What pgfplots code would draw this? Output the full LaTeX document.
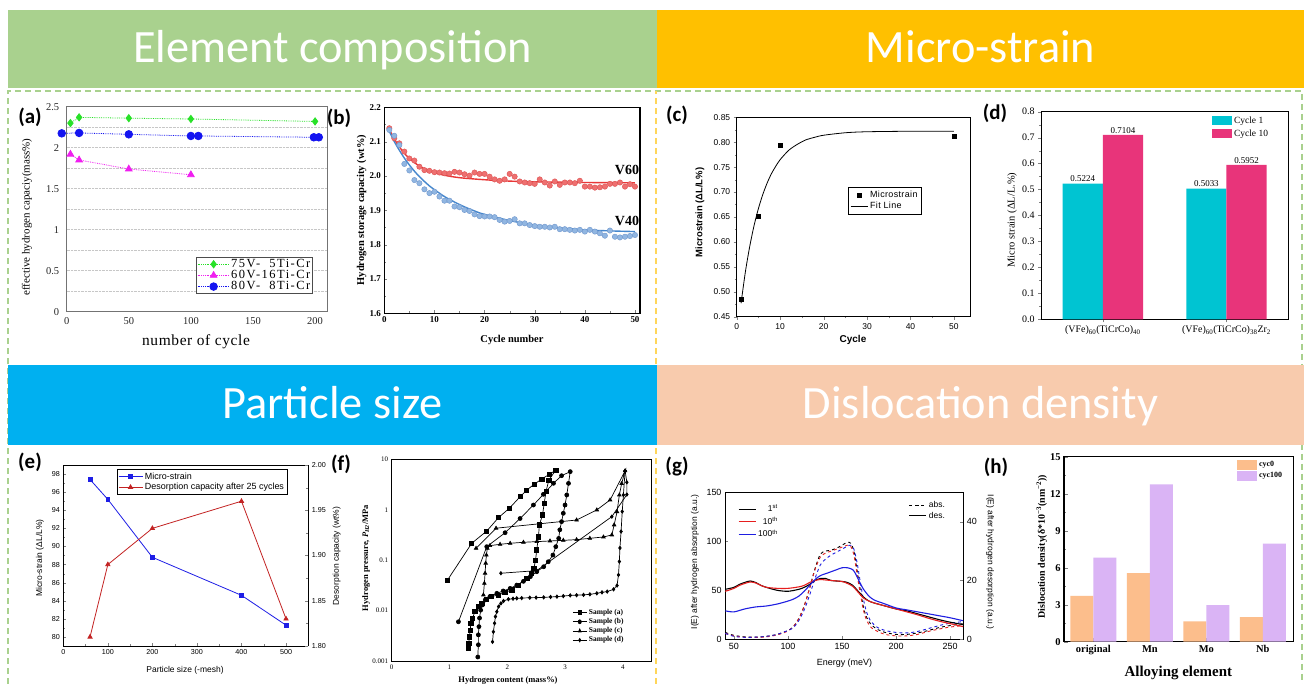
\documentclass[border=0pt]{standalone}
\usepackage{fontspec}
\usepackage{pgfplots}
\pgfplotsset{compat=1.18}
\setmainfont{Liberation Serif}
\newfontfamily\arial{Liberation Sans}
\newfontfamily\carlito{Carlito}
\newcommand{\fs}[1]{\fontsize{#1}{#1}\selectfont}
\definecolor{bgreen}{RGB}{169,209,142}
\definecolor{borange}{RGB}{255,192,0}
\definecolor{bblue}{RGB}{0,176,240}
\definecolor{bpeach}{RGB}{248,203,173}
\definecolor{dyellow}{RGB}{255,214,90}
\definecolor{cgreen}{RGB}{40,225,40}
\definecolor{cmag}{RGB}{240,30,240}
\definecolor{cblue}{RGB}{20,20,240}
\definecolor{rfill}{RGB}{238,112,112}
\definecolor{rdraw}{RGB}{222,80,80}
\definecolor{bfill}{RGB}{145,182,225}
\definecolor{bdraw}{RGB}{110,150,205}
\definecolor{rfit}{RGB}{232,55,55}
\definecolor{bfit}{RGB}{70,135,205}
\definecolor{ccyan}{RGB}{0,196,210}
\definecolor{cpink}{RGB}{232,52,122}
\definecolor{estr}{RGB}{30,30,230}
\definecolor{edes}{RGB}{195,35,35}
\definecolor{gred}{RGB}{230,30,30}
\definecolor{gblue}{RGB}{30,30,225}
\definecolor{hpeach}{RGB}{252,190,140}
\definecolor{hlav}{RGB}{218,180,245}
\pgfplotsset{every axis/.append style={scale only axis, anchor=south west, /pgf/number format/assume math mode=true}}
\begin{document}
\begin{tikzpicture}
\useasboundingbox (0,0) rectangle (1304bp,684bp);
\fill[white] (0,0) rectangle (1304bp,684bp);
% dashed frames
\draw[bgreen, line width=2bp, dash pattern=on 6bp off 4bp] (8bp,0bp) -- (8bp,593bp) -- (1302bp,593bp) -- (1302bp,0bp);
\draw[dyellow, line width=2bp, dash pattern=on 6bp off 4bp] (656bp,0bp) -- (656bp,593bp);
% banners
\fill[bgreen] (8bp,596bp) rectangle (657bp,674bp);
\fill[borange] (657bp,596bp) rectangle (1304bp,674bp);
\fill[bblue] (8bp,239bp) rectangle (657bp,319bp);
\fill[bpeach] (657bp,239bp) rectangle (1304bp,319bp);
\node[white, font=\carlito\fs{46.5}, anchor=base] at (332.5bp,621bp) {Element composition};
\node[white, font=\carlito\fs{46.5}, anchor=base] at (980.5bp,621bp) {Micro-strain};
\node[white, font=\carlito\fs{46.5}, anchor=base] at (332.5bp,265.5bp) {Particle size};
\node[white, font=\carlito\fs{46.5}, anchor=base] at (980.5bp,265.5bp) {Dislocation density};
% panel letters
\node[font=\carlito\bfseries\fs{21}] at (30bp,567bp) {(a)};
\node[font=\carlito\bfseries\fs{21}] at (339bp,566bp) {(b)};
\node[font=\carlito\bfseries\fs{21}] at (677bp,569bp) {(c)};
\node[font=\carlito\bfseries\fs{21}] at (995bp,571bp) {(d)};
\node[font=\carlito\bfseries\fs{21}] at (30bp,222bp) {(e)};
\node[font=\carlito\bfseries\fs{21}] at (341bp,220bp) {(f)};
\node[font=\carlito\bfseries\fs{21}] at (677bp,217bp) {(g)};
\node[font=\carlito\bfseries\fs{21}] at (996bp,217bp) {(h)};

% ---------------- (a)
\begin{axis}[at={(66.7bp,372.3bp)}, width=260.8bp, height=205bp,
 xmin=0,xmax=210,ymin=0,ymax=2.5,
 xtick={0,50,100,150,200}, ytick={0,0.5,1,1.5,2,2.5},
 minor ytick={0.25,0.75,1.25,1.75,2.25},
 ymajorgrids, yminorgrids,
 major grid style={densely dotted, black!22}, minor grid style={densely dotted, black!22},
 major tick length=0pt, minor tick length=0pt,
 axis line style={black!55, line width=0.9bp},
 tick label style={font=\fs{10.5}, text=black!85},
 yticklabel style={xshift=-4bp}, xticklabel style={yshift=-2bp},
 clip=false,
 legend style={at={(0.944,0.086)}, anchor=south east, draw=black!70, line width=0.8bp, font=\fs{12.5}\addfontfeature{LetterSpace=12}, inner sep=1bp, row sep=-1bp, nodes={inner sep=1.2bp}},
 legend cell align=left,
 legend image code/.code={\draw[#1, mark repeat=2, mark phase=2] plot coordinates {(0bp,0bp) (16bp,0bp) (32bp,0bp)};},
]
\addplot[color=cgreen, densely dotted, line width=0.8bp, mark=diamond*, mark size=3.6bp, mark options={solid, fill=cgreen}] coordinates {(3,2.30)(10,2.37)(50,2.36)(100,2.35)(200,2.32)};
\addlegendentry{75V-\ \ 5Ti-Cr}
\addplot[color=cmag, densely dotted, line width=0.8bp, mark=triangle*, mark size=3.8bp, mark options={solid, fill=cmag}] coordinates {(3,1.92)(10,1.85)(50,1.74)(100,1.67)};
\addlegendentry{60V-16Ti-Cr}
\addplot[color=cblue, densely dotted, line width=0.8bp, mark=*, mark size=3.8bp, mark options={solid, fill=cblue}] coordinates {(-4,2.175)(10,2.18)(50,2.163)(100,2.143)(106,2.143)(199,2.127)(203,2.127)};
\addlegendentry{80V-\ \ 8Ti-Cr}
\end{axis}
\node[font=\fs{15.5}\addfontfeature{LetterSpace=4}] at (196bp,342bp) {number of cycle};
\node[font=\fs{11}, rotate=90] at (27bp,467bp) {effective hydrogen capaciy(mass\%)};

% ---------------- (b)
\begin{axis}[at={(384.3bp,370.7bp)}, width=255.7bp, height=206bp,
 xmin=0,xmax=51,ymin=1.6,ymax=2.2,
 xtick={0,10,20,30,40,50}, ytick={1.6,1.7,1.8,1.9,2.0,2.1,2.2},
 minor x tick num=1, minor y tick num=1,
 xtick pos=left, ytick pos=left, tick align=inside,
 major tick length=3bp, minor tick length=1.8bp,
 axis line style={line width=1.1bp},
 tick label style={font=\bfseries\fs{9}},
 yticklabel style={/pgf/number format/.cd, fixed, fixed zerofill, precision=1},
]
\addplot[only marks, mark=*, mark size=2.7bp, mark options={fill=rfill, draw=rdraw, line width=0.4bp}] coordinates {
(1,2.139)(2,2.110)(3,2.095)(4,2.071)(5,2.051)(6,2.045)(7,2.027)(8,2.017)(9,2.015)(10,2.011)
(11,2.010)(12,2.008)(13,2.007)(14,2.012)(15,2.010)(16,2.005)(17,2.001)(18,2.010)(19,2.006)(20,2.006)
(21,1.998)(22,1.990)(23,1.986)(24,1.990)(25,2.006)(26,1.998)(27,1.984)(28,1.981)(29,1.979)(30,1.977)
(31,1.990)(32,1.981)(33,1.972)(34,1.984)(35,1.974)(36,1.981)(37,1.981)(38,1.979)(39,1.986)(40,1.969)
(41,1.969)(42,1.966)(43,1.967)(44,1.969)(45,1.977)(46,1.977)(47,1.981)(48,1.969)(49,1.976)(50,1.969)};
\addplot[only marks, mark=*, mark size=2.7bp, mark options={fill=bfill, draw=bdraw, line width=0.4bp}] coordinates {
(1,2.134)(2,2.117)(3,2.090)(4,2.035)(5,2.016)(6,1.988)(7,1.979)(8,1.961)(9,1.950)(10,1.954)
(11,1.940)(12,1.928)(13,1.928)(14,1.911)(15,1.909)(16,1.901)(17,1.898)(18,1.888)(19,1.883)(20,1.882)
(21,1.882)(22,1.880)(23,1.872)(24,1.867)(25,1.869)(26,1.874)(27,1.862)(28,1.862)(29,1.857)(30,1.854)
(31,1.852)(32,1.852)(33,1.850)(34,1.852)(35,1.845)(36,1.845)(37,1.843)(38,1.841)(39,1.843)(40,1.838)
(41,1.843)(42,1.838)(43,1.833)(44,1.826)(45,1.841)(46,1.823)(47,1.821)(48,1.823)(49,1.825)(50,1.828)};
\addplot[rfit, line width=1.4bp, smooth] coordinates {(1,2.135)(2,2.108)(3,2.085)(4,2.066)(5,2.051)(6,2.039)(7,2.029)(8,2.021)(10,2.010)(12,2.002)(15,1.995)(20,1.989)(25,1.985)(30,1.983)(40,1.981)(50,1.980)};
\addplot[bfit, line width=1.4bp, smooth] coordinates {(1,2.13)(2,2.10)(3,2.075)(4,2.052)(5,2.032)(6,2.014)(7,1.998)(8,1.984)(9,1.971)(10,1.960)(12,1.940)(14,1.924)(16,1.910)(18,1.898)(20,1.888)(25,1.870)(30,1.857)(35,1.849)(40,1.843)(45,1.840)(50,1.838)};
\end{axis}
\node[font=\bfseries\fs{14}] at (627bp,514bp) {V60};
\node[font=\bfseries\fs{14}] at (627bp,463bp) {V40};
\node[font=\bfseries\fs{10.5}, rotate=90] at (361.7bp,474bp) {Hydrogen storage capacity (wt\%)};
\node[font=\bfseries\fs{10.5}] at (512bp,344bp) {Cycle number};

% ---------------- (c)
\begin{axis}[at={(736.7bp,367.3bp)}, width=233.3bp, height=199.4bp,
 xmin=0,xmax=53.7,ymin=0.45,ymax=0.85,
 xtick={0,10,20,30,40,50}, ytick={0.45,0.50,0.55,0.60,0.65,0.70,0.75,0.80,0.85},
 minor x tick num=1, minor y tick num=1,
 xtick pos=left, ytick pos=left, tick align=outside,
 major tick length=3bp, minor tick length=1.8bp,
 axis line style={line width=0.8bp},
 tick label style={font=\arial\fs{8.5}},
 yticklabel style={/pgf/number format/.cd, fixed, fixed zerofill, precision=2},
 legend style={at={(0.477,0.65)}, anchor=north west, draw=black, line width=0.6bp, font=\arial\fs{9}\addfontfeature{LetterSpace=4}, inner sep=2bp, row sep=-1bp},
 legend cell align=left,
]
\addplot[only marks, mark=square*, mark size=1.8bp, black] coordinates {(1,0.485)(5,0.651)(10,0.794)(50,0.812)};
\addlegendentry{Microstrain}
\addplot[black, line width=0.8bp, smooth] coordinates {(1,0.477)(2,0.540)(3,0.591)(4,0.633)(5,0.667)(6,0.695)(7,0.718)(8,0.737)(9,0.752)(10,0.765)(12,0.784)(14,0.796)(16,0.805)(18,0.810)(20,0.814)(25,0.819)(30,0.821)(40,0.822)(50,0.822)};
\addlegendentry{Fit Line}
\end{axis}
\node[font=\arial\bfseries\fs{9.5}, rotate=90] at (700bp,471.5bp) {Microstrain (ΔL/L\%)};
\node[font=\arial\bfseries\fs{10}] at (853bp,344bp) {Cycle};

% ---------------- (d)
\begin{axis}[at={(1041bp,364.7bp)}, width=247.3bp, height=207.6bp,
 xmin=0.5,xmax=2.5,ymin=0,ymax=0.8,
 xtick={1,2}, xticklabels={(VFe)\textsubscript{60}(TiCrCo)\textsubscript{40},(VFe)\textsubscript{60}(TiCrCo)\textsubscript{38}Zr\textsubscript{2}},
 ytick={0,0.1,...,0.8}, minor y tick num=1,
 xtick pos=left, ytick pos=left, tick align=outside,
 major tick length=3bp, minor tick length=1.8bp,
 axis line style={line width=0.9bp},
 tick label style={font=\fs{10}},
 yticklabel style={/pgf/number format/.cd, fixed, fixed zerofill, precision=1},
 legend style={at={(0.687,0.99)}, anchor=north west, draw=none, fill=none, font=\fs{9.5}, inner sep=1bp, row sep=0.5bp},
 legend cell align=left,
 legend image code/.code={\fill[#1] (0bp,-4.5bp) rectangle (20bp,4.5bp);},
 point meta=explicit symbolic,
 nodes near coords, every node near coord/.append style={font=\fs{9}, inner sep=1.5bp},
]
\addplot[ybar, bar width=0.325, bar shift=0pt, fill=ccyan, draw=none] coordinates {(0.8375,0.5224)[0.5224] (1.8375,0.5033)[0.5033]};
\addlegendentry{Cycle 1}
\addplot[ybar, bar width=0.325, bar shift=0pt, fill=cpink, draw=none] coordinates {(1.1625,0.7104)[0.7104] (2.1625,0.5952)[0.5952]};
\addlegendentry{Cycle 10}
\end{axis}
\node[font=\fs{10.5}, rotate=90] at (1012bp,464bp) {Micro strain (ΔL/L.\%)};

% ---------------- (e)
\begin{axis}[at={(63.3bp,38bp)}, width=245bp, height=181bp,
 xmin=0,xmax=550,ymin=79,ymax=99,
 xtick={0,100,200,300,400,500}, ytick={80,82,84,86,88,90,92,94,96,98},
 minor x tick num=1, minor y tick num=1,
 axis y line*=left, xtick pos=left, tick align=inside,
 major tick length=3bp, minor tick length=1.8bp,
 axis line style={line width=0.6bp},
 tick label style={font=\arial\fs{7.2}},
]
\addplot[estr, line width=0.8bp, mark=square*, mark size=1.9bp] coordinates {(60,97.4)(100,95.2)(200,88.8)(400,84.6)(500,81.3)};
\end{axis}
\begin{axis}[at={(63.3bp,38bp)}, width=245bp, height=181bp,
 xmin=0,xmax=550,ymin=1.8,ymax=2.0,
 axis x line=none, axis y line*=right,
 ytick={1.80,1.85,1.90,1.95,2.00}, minor y tick num=1,
 tick align=inside,
 major tick length=3bp, minor tick length=1.8bp,
 axis line style={line width=0.6bp},
 tick label style={font=\arial\fs{7.2}},
 yticklabel style={/pgf/number format/.cd, fixed, fixed zerofill, precision=2},
 legend style={at={(0.218,0.976)}, anchor=north west, draw=black, line width=0.5bp, font=\arial\fs{9}, inner sep=1.2bp, row sep=-1.5bp},
 legend cell align=left,
 legend image code/.code={\draw[#1, mark repeat=2, mark phase=2] plot coordinates {(0bp,0bp) (12bp,0bp) (24bp,0bp)};},
]
\addlegendimage{estr, line width=0.8bp, mark=square*, mark size=1.9bp}
\addlegendentry{Micro-strain}
\addplot[edes, line width=0.8bp, mark=triangle*, mark size=2.4bp] coordinates {(60,1.81)(100,1.89)(200,1.93)(400,1.96)(500,1.83)};
\addlegendentry{Desorption capacity after 25 cycles}
\end{axis}
\node[font=\arial\fs{8.5}, rotate=90] at (40bp,126bp) {Micro-strain (ΔL/L\%)};
\node[font=\arial\fs{8.5}, rotate=90] at (336.7bp,128bp) {Desorption capacity (wt\%)};
\node[font=\arial\fs{8.5}] at (185bp,14bp) {Particle size (-mesh)};

% ---------------- (f)
\begin{axis}[at={(391.7bp,23bp)}, width=260bp, height=201.7bp,
 xmin=0,xmax=4.5,ymin=0.001,ymax=10, ymode=log,
 xtick={0,1,2,3,4}, ytick={0.001,0.01,0.1,1,10}, yticklabels={0.001,0.01,0.1,1,10},
 major tick length=0pt, minor tick length=0pt,
 axis line style={line width=0.7bp},
 tick label style={font=\fs{7}},
 legend style={at={(0.904,0.071)}, anchor=south east, draw=none, fill=none, font=\bfseries\fs{7.5}, inner sep=1bp, row sep=-1.5bp},
 legend cell align=left,
 legend image post style={xscale=0.8},
]
\addplot[black, line width=0.7bp, mark=square*, mark size=2.1bp] coordinates {
(0.964,0.040)(1.385,0.216)(1.645,0.378)(1.85,0.70)(2.037,1.07)(2.222,1.81)(2.337,2.46)(2.464,3.18)(2.597,4.07)(2.73,5.04)(2.84,6.1)
(2.72,3.89)(2.67,2.28)(2.64,1.34)(2.61,0.79)(2.556,0.50)(2.54,0.29)(2.51,0.16)(2.49,0.10)(2.46,0.069)(2.42,0.055)(2.34,0.044)
(2.19,0.032)(2.08,0.0257)(1.96,0.023)(1.85,0.0204)(1.73,0.019)(1.645,0.017)(1.56,0.014)(1.5,0.012)(1.44,0.0095)(1.40,0.0071)
(1.37,0.0056)(1.36,0.0041)(1.345,0.0030)(1.334,0.0022)(1.33,0.0018)};
\addlegendentry{Sample (a)}
\addplot[black, line width=0.7bp, mark=*, mark size=2bp] coordinates {
(1.155,0.006)(1.645,0.185)(1.963,0.35)(2.222,0.67)(2.453,1.24)(2.626,2.02)(2.80,3.34)(2.94,4.73)(3.09,5.69)
(3.06,3.33)(3.03,1.96)(3.0,1.24)(2.97,0.85)(2.94,0.58)(2.91,0.40)(2.89,0.27)(2.84,0.185)(2.79,0.126)(2.71,0.093)(2.63,0.074)
(2.51,0.059)(2.40,0.047)(2.28,0.038)(2.165,0.032)(2.05,0.0275)(1.93,0.0245)(1.82,0.022)(1.70,0.019)(1.62,0.0163)(1.57,0.0129)
(1.54,0.0102)(1.52,0.0071)(1.51,0.0048)(1.50,0.0033)(1.50,0.0021)(1.49,0.0012)};
\addlegendentry{Sample (b)}
\addplot[black, line width=0.7bp, mark=triangle*, mark size=2bp] coordinates {
(1.587,0.0204)(1.604,0.0347)(1.616,0.055)(1.627,0.087)(1.639,0.126)(1.656,0.172)(1.70,0.194)(1.876,0.206)(2.05,0.216)(2.28,0.226)
(2.51,0.233)(2.74,0.24)(2.97,0.247)(3.20,0.255)(3.43,0.271)(3.665,0.288)(3.81,0.316)(3.85,0.50)(3.90,0.91)(3.94,1.96)(3.98,3.3)(4.04,5.9)
(3.78,1.56)(3.55,0.99)(3.20,0.625)(1.806,0.43)(1.46,0.172)};
\addlegendentry{Sample (c)}
\addplot[black, line width=0.7bp, mark=diamond*, mark size=1.7bp] coordinates {
(1.745,0.0024)(1.76,0.0038)(1.78,0.0056)(1.795,0.0076)(1.82,0.0095)(1.85,0.012)(1.89,0.0139)(1.935,0.0155)(2.02,0.0168)(2.1,0.0172)
(2.164,0.0175)(2.25,0.0177)(2.39,0.018)(2.5,0.0181)(2.63,0.0183)(2.75,0.0186)(2.86,0.0189)(2.97,0.0194)(3.09,0.020)(3.2,0.0202)
(3.32,0.0205)(3.43,0.021)(3.55,0.022)(3.64,0.023)(3.73,0.0238)(3.84,0.0264)(3.90,0.0314)(3.925,0.051)(3.94,0.094)(3.95,0.174)
(3.97,0.37)(3.99,0.92)(4.01,1.96)(4.04,5.9)};
\addlegendentry{Sample (d)}
\addplot[black, line width=0.7bp, mark=diamond*, mark size=1.7bp, forget plot] coordinates {(4.04,5.9)(4.07,3.5)(4.07,2.0)(3.81,0.73)(2.51,0.062)(1.89,0.055)};
\end{axis}
\node[font=\bfseries\fs{8.5}, rotate=90] at (366bp,126bp) {Hydrogen pressure, \textit{P}\textsubscript{\textit{H2}}/MPa};
\node[font=\bfseries\fs{8.5}] at (508bp,3.5bp) {Hydrogen content (mass\%)};

% ---------------- (g)
\begin{axis}[at={(725bp,44.7bp)}, width=238.3bp, height=147bp,
 xmin=41.7,xmax=262.3,ymin=0,ymax=150,
 xtick={50,100,150,200,250}, ytick={0,50,100,150},
 xtick pos=left, ytick pos=left, tick align=inside,
 major tick length=3bp,
 axis line style={line width=0.7bp},
 tick label style={font=\arial\fs{9}},
 legend style={at={(0.05,0.935)}, anchor=north west, draw=none, fill=none, font=\arial\fs{8.5}, inner sep=1bp, row sep=0bp},
 legend cell align=right,
]
\addlegendimage{black, line width=1.1bp}\addlegendentry{1\textsuperscript{st}}
\addlegendimage{gred, line width=1.1bp}\addlegendentry{10\textsuperscript{th}}
\addlegendimage{gblue, line width=1.1bp}\addlegendentry{100\textsuperscript{th}}
\addplot[black, dashed, line width=0.9bp, smooth, forget plot] coordinates {(42,7)(50,4)(60,2.5)(70,2.2)(80,3)(90,5)(100,9)(105,13)(110,21)(115,34)(120,52)(125,72)(130,87)(135,90)(140,91)(145,93)(150,96)(155,99)(158,98)(161,90)(164,70)(167,50)(170,32)(173,22)(177,15)(183,10)(190,7)(200,5)(210,5)(220,6.5)(230,9)(240,12)(250,14)(262,16)};
\addplot[gred, dashed, line width=0.9bp, smooth, forget plot] coordinates {(42,6)(50,3.5)(60,2)(70,2)(80,2.5)(90,4.5)(100,8.5)(105,13)(110,21)(115,34)(120,52)(125,71)(130,84)(135,88)(140,90)(145,92)(150,94)(155,96)(158,95)(161,86)(164,66)(167,46)(170,29)(173,19)(177,12)(183,8)(190,5)(200,3.5)(210,3.5)(220,5)(230,8)(240,10.5)(250,12.5)(262,14)};
\addplot[gblue, dashed, line width=0.9bp, smooth, forget plot] coordinates {(42,6)(50,3)(60,2)(70,2.2)(80,3)(90,5)(100,9)(105,12)(110,19)(115,30)(120,45)(125,62)(130,76)(135,82)(140,86)(145,89)(150,92)(155,95)(158,96)(161,92)(164,78)(167,58)(170,40)(173,27)(177,18)(183,12)(190,9)(200,7)(210,6.5)(220,8)(230,11)(240,14)(250,16.5)(262,18)};
\end{axis}
\begin{axis}[at={(725bp,44.7bp)}, width=238.3bp, height=147bp,
 xmin=41.7,xmax=262.3,ymin=0,ymax=50,
 axis x line=none, axis y line*=right,
 ytick={0,20,40}, tick align=inside, major tick length=3bp,
 axis line style={line width=0.7bp},
 tick label style={font=\arial\fs{9}},
 legend style={at={(0.936,0.96)}, anchor=north east, draw=none, fill=none, font=\arial\fs{8.5}, inner sep=1bp, row sep=-1bp},
 legend cell align=left,
]
\addlegendimage{black, dashed, line width=0.9bp}\addlegendentry{abs.}
\addlegendimage{black, line width=1.1bp}\addlegendentry{des.}
\addplot[black, line width=1.1bp, smooth, forget plot] coordinates {(42,17)(50,17.67)(55,18.67)(60,19.33)(65,19.83)(70,19.33)(75,18.33)(80,17.67)(90,16.67)(100,16.33)(110,17)(115,17.67)(120,18.67)(125,20)(130,20.67)(135,20.67)(140,20)(150,19.67)(155,19.33)(160,18.33)(165,16.33)(170,14.33)(175,13)(180,12.33)(190,11.33)(200,10.33)(210,9.67)(220,8.67)(230,7.67)(240,6.67)(250,5.83)(262,5)};
\addplot[gred, line width=1.1bp, smooth, forget plot] coordinates {(42,16.33)(50,17.33)(55,18.33)(60,19)(65,19.5)(70,19.17)(75,18.33)(80,17.67)(90,17.33)(100,17.33)(110,17.83)(115,18.33)(120,19.33)(125,20)(130,20.33)(135,20.17)(140,20)(150,19.67)(155,19)(160,18)(165,16)(170,14)(175,13)(180,12.33)(190,11.33)(200,10.33)(210,9.33)(220,8.33)(230,7.17)(240,6.17)(250,5.33)(262,4.33)};
\addplot[gblue, line width=1.1bp, smooth, forget plot] coordinates {(42,9.67)(50,9.33)(60,10.33)(70,11)(80,11.33)(90,12)(100,13)(105,13.67)(110,14.67)(115,16.33)(120,18.33)(125,20.33)(130,21.67)(135,22.33)(140,23)(145,23.67)(150,24.33)(155,24.33)(160,23.67)(163,22)(166,19.67)(170,17)(175,14.67)(180,13.33)(190,12)(200,10.67)(210,10)(220,9.33)(230,8.67)(240,8)(250,7.33)(262,6.33)};
\end{axis}
\node[font=\arial\fs{8.5}, rotate=90] at (695bp,122bp) {I(E) after hydrogen absorption (a.u.)};
\node[font=\arial\fs{8.5}, rotate=-90] at (990bp,122bp) {I(E) after hydrogen desorption (a.u.)};
\node[font=\arial\fs{9}] at (844.5bp,21.3bp) {Energy (meV)};

% ---------------- (h)
\begin{axis}[at={(1064bp,42.3bp)}, width=229.3bp, height=185bp,
 xmin=0.48,xmax=4.54,ymin=0,ymax=15,
 xtick={1,2,3,4}, xticklabels={original,Mn,Mo,Nb},
 ytick={0,3,6,9,12,15}, minor y tick num=1,
 xtick pos=left, ytick pos=left, tick align=inside,
 major tick length=3.5bp, minor tick length=2bp,
 axis line style={line width=1.5bp},
 tick label style={font=\bfseries\fs{10.5}},
 yticklabel style={font=\bfseries\fs{10.5}},
 legend style={at={(0.75,0.993)}, anchor=north west, draw=none, fill=none, font=\bfseries\fs{8}, inner sep=1bp, row sep=0.5bp},
 legend cell align=left,
 legend image code/.code={\fill[#1] (0bp,-5bp) rectangle (20bp,5bp);},
]
\addplot[ybar, bar width=0.407, bar shift=0pt, fill=hpeach, draw=none] coordinates {(0.796,3.72)(1.796,5.55)(2.796,1.65)(3.796,2.0)};
\addlegendentry{cyc0}
\addplot[ybar, bar width=0.407, bar shift=0pt, fill=hlav, draw=none] coordinates {(1.204,6.82)(2.204,12.75)(3.204,2.97)(4.204,7.95)};
\addlegendentry{cyc100}
\end{axis}
\node[font=\bfseries\fs{10}, rotate=90] at (1041.7bp,137.3bp) {Dislocation density(δ*10\textsuperscript{−3}(nm\textsuperscript{−2}))};
\node[font=\bfseries\fs{15}] at (1178.3bp,10.7bp) {Alloying element};
\end{tikzpicture}
\end{document}
